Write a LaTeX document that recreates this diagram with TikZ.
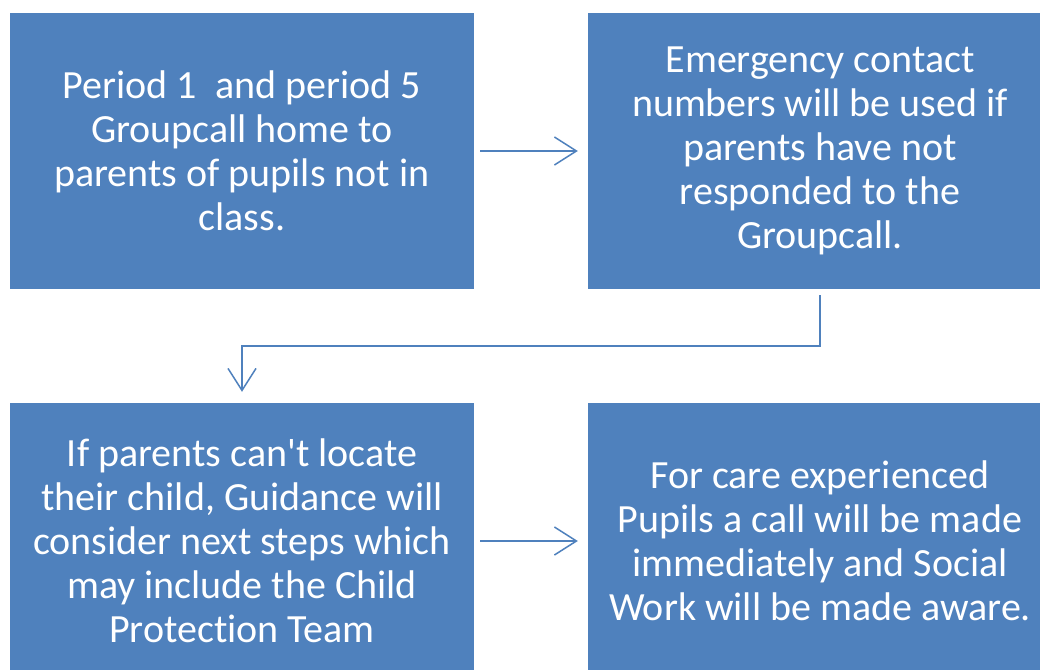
\documentclass[tikz,border=0pt]{standalone}
\usepackage{fontspec}
\setmainfont{Carlito}[Ligatures={NoCommon}]
\usetikzlibrary{arrows.meta,calc}
\definecolor{boxblue}{HTML}{4F81BD}
\tikzset{
  flowbox/.style={fill=boxblue, draw=none, minimum width=464pt, minimum height=276pt,
    inner sep=0pt, text=white, align=center,
    font=\fontsize{40pt}{44pt}\selectfont},
  flowarrow/.style={draw=boxblue, line width=1.5pt,
    -{Straight Barb[length=22pt, width=28pt, line width=1.5pt]}}
}
\begin{document}
\begin{tikzpicture}[x=1pt, y=-1pt]
  \useasboundingbox (0,0) rectangle (1040,669);
  \clip (0,0) rectangle (1040,669);
  \fill[white] (0,0) rectangle (1040,669);

  % the four steps, left to right, top to bottom
  \node[flowbox] (b1) at (242,151) {Period 1~ and period 5\\Groupcall home to\\parents of pupils not in\\class.};
  \node[flowbox] (b2) at (820,151) {Emergency contact\\numbers will be used if\\parents have not\\responded to the\\Groupcall.};
  \node[flowbox] (b3) at (242,541) {If parents can\textquotesingle t locate\\their child, Guidance will\\consider next steps which\\may include the Child\\Protection Team};
  \node[flowbox] (b4) at (820,541) {For care experienced\\Pupils a call will be made\\immediately and Social\\Work will be made aware.};

  % connectors
  \draw[flowarrow] ([xshift=6pt]b1.east) -- ([xshift=-10pt]b2.west);
  \draw[flowarrow] ([yshift=-6pt]b2.south) |- ($(b1.south)!0.5!(b3.north)$) -- ([yshift=11pt]b3.north);
  \draw[flowarrow] ([xshift=6pt]b3.east) -- ([xshift=-10pt]b4.west);
\end{tikzpicture}
\end{document}
